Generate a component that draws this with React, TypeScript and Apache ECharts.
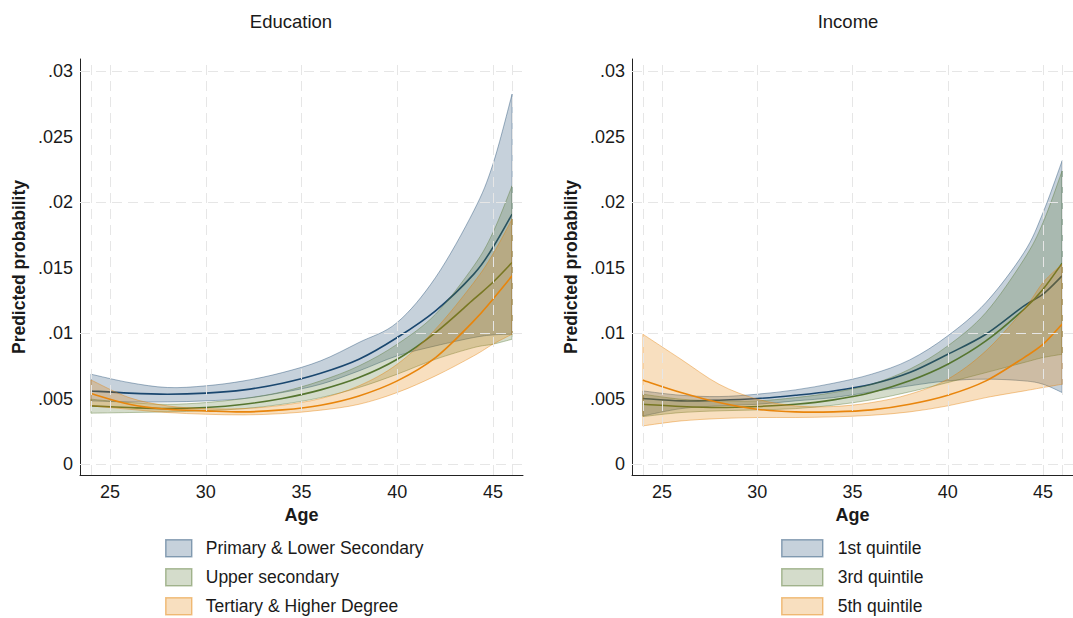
import React, { useEffect, useRef } from "react";
import * as echarts from "echarts";

// ---------- DATA ----------
const ages = [24, 26, 28, 30, 32, 34, 36, 38, 40, 42, 44, 45, 46];
const xTicks = [25, 30, 35, 40, 45];
const xGrid = [24, 25, 30, 35, 40, 45, 46];
const yTicks = [0, 0.005, 0.01, 0.015, 0.02, 0.025, 0.03];

const panelTitles = ["Education", "Income"];
const eduNames = ["Primary & Lower Secondary", "Upper secondary", "Tertiary & Higher Degree"];
const incNames = ["1st quintile", "3rd quintile", "5th quintile"];

// Education
const eduPrimaryMid = [0.0056, 0.00543, 0.00535, 0.00543, 0.00568, 0.00619, 0.00695, 0.00802, 0.00968, 0.01172, 0.01452, 0.01656, 0.0191];
const eduPrimaryLo = [0.00484, 0.00476, 0.00476, 0.00484, 0.00502, 0.00548, 0.00611, 0.00713, 0.00828, 0.00904, 0.00968, 0.00988, 0.00993];
const eduPrimaryHi = [0.00688, 0.00624, 0.00586, 0.00599, 0.00637, 0.007, 0.0079, 0.0093, 0.01083, 0.01426, 0.01936, 0.02292, 0.02827];
const eduUpperMid = [0.00446, 0.00433, 0.00425, 0.00433, 0.00458, 0.00502, 0.00568, 0.00662, 0.00802, 0.01006, 0.01261, 0.0139, 0.01541];
const eduUpperLo = [0.0039, 0.00395, 0.004, 0.00408, 0.00425, 0.00458, 0.00509, 0.00586, 0.00688, 0.00802, 0.00891, 0.00917, 0.00955];
const eduUpperHi = [0.00497, 0.00471, 0.00458, 0.00471, 0.00502, 0.00553, 0.00637, 0.00751, 0.00917, 0.01146, 0.01515, 0.0177, 0.02127];
const eduTertMid = [0.0054, 0.00458, 0.0042, 0.00408, 0.004, 0.00415, 0.00451, 0.00522, 0.00637, 0.00815, 0.01095, 0.01261, 0.01439];
const eduTertLo = [0.00446, 0.0042, 0.00395, 0.00382, 0.00377, 0.00387, 0.00413, 0.00458, 0.00548, 0.00675, 0.00828, 0.00917, 0.00993];
const eduTertHi = [0.00644, 0.00509, 0.00446, 0.00425, 0.00425, 0.00451, 0.00502, 0.00599, 0.00764, 0.01032, 0.01388, 0.01605, 0.01872];

// Income
const incQ1Mid = [0.00502, 0.00484, 0.00489, 0.00502, 0.00527, 0.0056, 0.00611, 0.007, 0.0084, 0.00993, 0.0121, 0.01299, 0.01439];
const incQ1Lo = [0.00369, 0.00425, 0.00446, 0.00458, 0.00484, 0.00509, 0.00553, 0.00599, 0.00637, 0.0065, 0.00637, 0.00611, 0.00548];
const incQ1Hi = [0.0056, 0.00527, 0.00517, 0.00535, 0.00568, 0.00619, 0.00688, 0.00797, 0.00981, 0.01235, 0.01617, 0.01923, 0.02318];
const incQ3Mid = [0.00458, 0.00441, 0.00433, 0.00441, 0.00458, 0.00492, 0.00548, 0.00637, 0.00764, 0.00942, 0.01184, 0.01337, 0.01536];
const incQ3Lo = [0.00364, 0.00395, 0.00408, 0.00415, 0.00425, 0.00451, 0.00492, 0.00553, 0.00624, 0.007, 0.00777, 0.00815, 0.0084];
const incQ3Hi = [0.00535, 0.00497, 0.00484, 0.00484, 0.00509, 0.00548, 0.00611, 0.00726, 0.00904, 0.01159, 0.01566, 0.01847, 0.02241];
const incQ5Mid = [0.00642, 0.00548, 0.00471, 0.0042, 0.004, 0.004, 0.00415, 0.00458, 0.00527, 0.00637, 0.00815, 0.00917, 0.0107];
const incQ5Lo = [0.00293, 0.00331, 0.00349, 0.00357, 0.00357, 0.00362, 0.00374, 0.004, 0.00446, 0.00509, 0.0056, 0.00586, 0.00611];
const incQ5Hi = [0.00993, 0.00802, 0.00611, 0.00497, 0.00446, 0.00441, 0.00471, 0.00535, 0.0065, 0.00866, 0.01184, 0.01388, 0.01528];

// ---------- STYLE ----------
const RGB = ["26,71,111", "85,117,47", "227,126,0"];
const LINE = ["#1a476f", "#55752f", "#e8850c"];
const FONT = '"Liberation Sans", Arial, Helvetica, sans-serif';
const TXT = "#1a1a1a";

type Group = { name: string; lo: number[]; mid: number[]; hi: number[] };

const eduGroups: Group[] = [
  { name: eduNames[0], lo: eduPrimaryLo, mid: eduPrimaryMid, hi: eduPrimaryHi },
  { name: eduNames[1], lo: eduUpperLo, mid: eduUpperMid, hi: eduUpperHi },
  { name: eduNames[2], lo: eduTertLo, mid: eduTertMid, hi: eduTertHi },
];
const incGroups: Group[] = [
  { name: incNames[0], lo: incQ1Lo, mid: incQ1Mid, hi: incQ1Hi },
  { name: incNames[1], lo: incQ3Lo, mid: incQ3Mid, hi: incQ3Hi },
  { name: incNames[2], lo: incQ5Lo, mid: incQ5Mid, hi: incQ5Hi },
];

// Catmull-Rom spline through pixel points -> SVG path commands
function spline(pts: number[][], start: string) {
  const s = 1 / 6;
  const f = (v: number) => v.toFixed(2);
  let d = `${start}${f(pts[0][0])},${f(pts[0][1])}`;
  for (let i = 0; i < pts.length - 1; i++) {
    const p0 = pts[i - 1] || pts[i];
    const p1 = pts[i];
    const p2 = pts[i + 1];
    const p3 = pts[i + 2] || p2;
    const c1x = p1[0] + (p2[0] - p0[0]) * s;
    const c1y = p1[1] + (p2[1] - p0[1]) * s;
    const c2x = p2[0] - (p3[0] - p1[0]) * s;
    const c2y = p2[1] - (p3[1] - p1[1]) * s;
    d += ` C${f(c1x)},${f(c1y)} ${f(c2x)},${f(c2y)} ${f(p2[0])},${f(p2[1])}`;
  }
  return d;
}

function groupSeries(g: Group, k: number, idx: number) {
  const fill = `rgba(${RGB[k]},0.25)`;
  const edge = `rgba(${RGB[k]},0.4)`;
  return {
    type: "custom",
    name: g.name,
    coordinateSystem: "cartesian2d",
    xAxisIndex: idx,
    yAxisIndex: idx,
    silent: true,
    clip: true,
    itemStyle: { color: fill },
    data: ages.map((a, i) => [a, g.lo[i], g.hi[i], g.mid[i]]),
    encode: { x: 0, y: [1, 2, 3] },
    renderItem: (params: any, api: any) => {
      if (params.dataIndex !== 0) return null;
      const up = ages.map((a, i) => api.coord([a, g.hi[i]]));
      const lo = ages.map((a, i) => api.coord([a, g.lo[i]])).reverse();
      const mid = ages.map((a, i) => api.coord([a, g.mid[i]]));
      const band = spline(up, "M") + " " + spline(lo, "L") + " Z";
      return {
        type: "group",
        children: [
          {
            type: "path",
            shape: { pathData: band },
            style: { fill, stroke: edge, lineWidth: 1 },
          },
          {
            type: "path",
            shape: { pathData: spline(mid, "M") },
            style: { fill: "none", stroke: LINE[k], lineWidth: 1.6 },
          },
        ],
      };
    },
  };
}

function gridSeries(idx: number, g: Group) {
  return {
    type: "line",
    name: "grid" + idx,
    xAxisIndex: idx,
    yAxisIndex: idx,
    symbol: "none",
    silent: true,
    lineStyle: { opacity: 0 },
    data: ages.map((a, i) => [a, g.mid[i]]),
    markLine: {
      silent: true,
      symbol: "none",
      label: { show: false },
      lineStyle: { color: "#e6e6e6", type: [10, 6], width: 1 },
      data: [...xGrid.map((v) => ({ xAxis: v })), ...yTicks.map((v) => ({ yAxis: v }))],
    },
  };
}

function legendData(names: string[]) {
  return names.map((n, k) => ({
    name: n,
    icon: "rect",
    itemStyle: {
      color: `rgba(${RGB[k]},0.25)`,
      borderColor: `rgba(${RGB[k]},0.45)`,
      borderWidth: 1.5,
    },
  }));
}

const GRID_TOP = 59;
const GRID_H = 416;
const GRID_W = 443;
const gridLefts = [80, 632];

function xAxisCfg(i: number) {
  return {
    type: "value",
    gridIndex: i,
    min: 23.43,
    max: 46.57,
    name: "Age",
    nameLocation: "middle",
    nameGap: 30,
    nameTextStyle: { fontFamily: FONT, fontSize: 18, fontWeight: "bold", color: TXT },
    axisLine: { show: true, onZero: false, lineStyle: { color: "#222", width: 1 } },
    axisTick: { show: false },
    splitLine: { show: false },
    axisLabel: { customValues: xTicks, fontFamily: FONT, fontSize: 18, color: TXT, margin: 8 },
  };
}

function yAxisCfg(i: number) {
  return {
    type: "value",
    gridIndex: i,
    min: -0.00082,
    max: 0.03095,
    name: "Predicted probability",
    nameLocation: "middle",
    nameGap: 52,
    nameTextStyle: { fontFamily: FONT, fontSize: 17.5, fontWeight: "bold", color: TXT },
    axisLine: { show: true, onZero: false, lineStyle: { color: "#222", width: 1 } },
    axisTick: { show: false },
    splitLine: { show: false },
    axisLabel: {
      customValues: yTicks,
      fontFamily: FONT,
      fontSize: 18,
      color: TXT,
      margin: 7,
      formatter: (v: number) => (v === 0 ? "0" : String(Number(v.toFixed(4))).replace(/^0/, "")),
    },
  };
}

export default function App() {
  const ref = useRef<HTMLDivElement>(null);
  useEffect(() => {
    document.body.style.margin = "0";
    if (!ref.current) return;
    const chart = echarts.init(ref.current, null, { renderer: "svg" });
    const series: any[] = [gridSeries(0, eduGroups[0]), gridSeries(1, incGroups[0])];
    eduGroups.forEach((g, k) => series.push(groupSeries(g, k, 0)));
    incGroups.forEach((g, k) => series.push(groupSeries(g, k, 1)));
    chart.setOption({
      animation: false,
      backgroundColor: "#ffffff",
      textStyle: { fontFamily: FONT },
      grid: gridLefts.map((l) => ({ left: l, top: GRID_TOP, width: GRID_W, height: GRID_H })),
      xAxis: [xAxisCfg(0), xAxisCfg(1)],
      yAxis: [yAxisCfg(0), yAxisCfg(1)],
      graphic: [
        { type: "text", x: 291, y: 12, style: { text: panelTitles[0], font: `18.5px ${FONT}`, fill: TXT, textAlign: "center" } },
        { type: "text", x: 848, y: 12, style: { text: panelTitles[1], font: `18.5px ${FONT}`, fill: TXT, textAlign: "center" } },
      ],
      legend: [
        {
          orient: "vertical",
          left: 165,
          top: 539,
          padding: 0,
          itemWidth: 26,
          itemHeight: 17,
          itemGap: 10.5,
          selectedMode: false,
          data: legendData(eduNames),
          textStyle: { fontFamily: FONT, fontSize: 17.5, color: TXT, padding: [0, 0, 0, 9] },
        },
        {
          orient: "vertical",
          left: 781,
          top: 539,
          padding: 0,
          itemWidth: 41,
          itemHeight: 17,
          itemGap: 10.5,
          selectedMode: false,
          data: legendData(incNames),
          textStyle: { fontFamily: FONT, fontSize: 17.5, color: TXT, padding: [0, 0, 0, 10] },
        },
      ],
      series,
    });
    return () => chart.dispose();
  }, []);
  return <div ref={ref} style={{ width: 1073, height: 618 }} />;
}
